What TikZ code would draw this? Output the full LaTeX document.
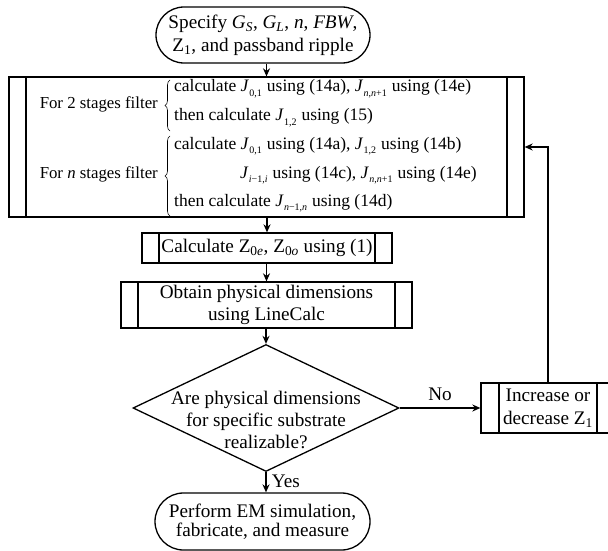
\documentclass[tikz,border=0pt]{standalone}
\usepackage{fontspec}
\setmainfont{Liberation Serif}
\usetikzlibrary{shapes.geometric,shapes.misc,arrows.meta,decorations.pathreplacing}
\newcommand{\Jsb}[1]{\textit{J}\kern0.3pt\raisebox{-0.55ex}{\fontsize{10}{11}\selectfont #1}\kern5pt}
\newcommand{\mainsz}{\fontsize{19.2}{23}\selectfont}
\tikzset{
  base/.style={draw, line width=1.3pt, align=center, inner sep=0pt, font=\mainsz},
  term/.style={base, rounded rectangle},
  proc/.style={base, rectangle, path picture={
      \draw[line width=1.3pt] ([xshift=#1]path picture bounding box.north west) -- ([xshift=#1]path picture bounding box.south west);
      \draw[line width=1.3pt] ([xshift=-#1]path picture bounding box.north east) -- ([xshift=-#1]path picture bounding box.south east);}},
  proc/.default=17pt,
  dec/.style={base, diamond},
  txt/.style={inner sep=0pt, font=\fontsize{17.5}{21}\selectfont, text height=13pt, text depth=5pt},
  lab/.style={inner sep=0pt, font=\fontsize{16.8}{20}\selectfont, text height=12pt, text depth=4pt},
  arr/.style={line width=1.3pt, -{Stealth[length=8pt,width=7pt]}},
  brc/.style={line width=0.6pt, decorate, decoration={brace, amplitude=5pt}}
}
\begin{document}
\begin{tikzpicture}[x=1pt, y=-1pt]
\clip (0,0) rectangle (608,551);
\fill[white] (0,0) rectangle (608,551);
% nodes
\node[term, minimum width=214pt, minimum height=56pt] (start) at (263,35)
  {Specify \textit{G}\textsubscript{\textit{S}}, \textit{G}\textsubscript{\textit{L}}, \textit{n}, \textit{FBW},\\ Z\textsubscript{1}, and passband ripple};
\node[proc, minimum width=515pt, minimum height=140pt] (big) at (266.5,147) {};
\node[proc, minimum width=250pt, minimum height=30pt] (calc) at (267,248) {Calculate Z\textsubscript{0\textit{e}}, Z\textsubscript{0\textit{o}} using (1)};
\node[proc, minimum width=291pt, minimum height=46pt, font=\fontsize{19.2}{22}\selectfont] (obt) at (266.5,305) {Obtain physical dimensions\\ using LineCalc};
\node[dec, minimum width=266pt, minimum height=127pt, aspect=2.1] (dia) at (266,408) {};
\node[align=center, inner sep=0pt, font=\fontsize{19.2}{22}\selectfont] (dtxt) at (266,420) {Are physical dimensions\\ for specific substrate\\ realizable?};
\node[proc=18pt, minimum width=134pt, minimum height=50pt] (inc) at (548,408) {Increase or\\ decrease Z\textsubscript{1}};
\node[term, minimum width=215pt, minimum height=57pt, font=\fontsize{19.2}{19}\selectfont] (end) at (262.5,521.5) {Perform EM simulation,\\ fabricate, and measure};
% big box content
\node[lab, anchor=east] (l2) at (158,105) {For 2 stages filter};
\node[lab, anchor=east] (ln) at (158,174) {For \textit{n} stages filter};
\node[txt, anchor=west] (r1) at (174,88) {calculate \Jsb{0,1}using (14a), \Jsb{\textit{n},\textit{n}+1}using (14e)};
\node[txt, anchor=west] (r2) at (174,117) {then calculate \Jsb{1,2}using (15)};
\node[txt, anchor=west] (r3) at (174,145) {calculate \Jsb{0,1}using (14a), \Jsb{1,2}using (14b)};
\node[txt, anchor=west] (r4) at (240,174) {\Jsb{\textit{i}−1,\textit{i}}using (14c), \Jsb{\textit{n},\textit{n}+1}using (14e)};
\node[txt, anchor=west] (r5) at (174,202) {then calculate \Jsb{\textit{n}−1,\textit{n}}using (14d)};
\coordinate (b1s) at (170,131);
\coordinate (b1e) at (170,80);
\coordinate (b2s) at (170,216);
\coordinate (b2e) at (170,136);
\draw[brc] (b1s) -- (b1e);
\draw[brc] (b2s) -- (b2e);
% connectors
\draw[arr] (start.south -| big.north) -- (big.north);
\draw[arr] (big.south -| calc.north) -- (calc.north);
\draw[arr] (calc.south -| obt.north) -- (obt.north);
\draw[arr] (obt.south -| dia.north) -- (dia.north);
\draw[arr] (dia.east) -- node[above=3pt, font=\mainsz] (no) {No} (inc.west);
\draw[arr] (dia.south) -- node[right=2pt, font=\mainsz, pos=0.45] (yes) {Yes} (dia.south |- end.north);
\draw[arr] (inc.north) |- (big.east);
\end{tikzpicture}
\end{document}
